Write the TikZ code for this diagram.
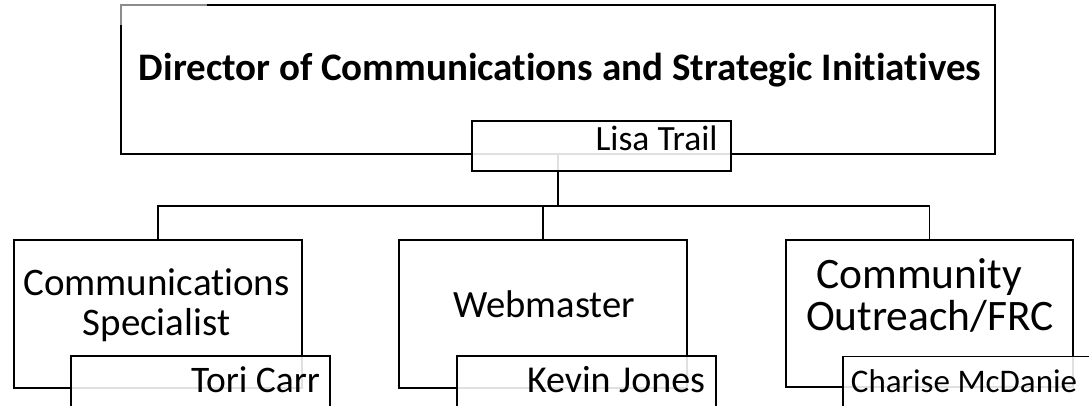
\documentclass[tikz,border=0pt]{standalone}
\usepackage{fontspec}
\setmainfont{Carlito}[Ligatures=NoCommon]
\begin{document}
\begin{tikzpicture}[x=1pt,y=-1pt,
  line width=1.8pt,
  box/.style={draw=black, rectangle, inner sep=0pt, fill=white,
    minimum width=#1},
  box/.default=288pt,
  namebox/.style={draw=black, rectangle, inner sep=0pt, fill=white,
    fill opacity=0.88, draw opacity=1, minimum width=259pt},
  label text/.style={inner sep=0pt, font=\fontsize{#1}{#1}\selectfont},
  link/.style={draw=black, line width=1.8pt}
]
\clip (0,0) rectangle (1089,405);

% title box
\node[box=874pt, minimum height=149pt] (top) at (558,79.5) {};

% second row of boxes
\node[box=288pt, minimum height=148pt] (comm) at (158,314) {};
\node[box=288pt, minimum height=148pt] (web) at (543,314) {};
\node[box=287pt, minimum height=147pt] (outr) at (929.5,313.5) {};

% connectors
\coordinate (bus) at (558,206);
\draw[link] (top.south) -- (bus);
\draw[link] (comm.north) |- (bus) -| (outr.north);
\draw[link] (web.north) -- (web.north |- bus);

% lighter top-left corner of the title box
\fill[white, fill opacity=0.55] (117,1) rectangle (207,25);

% name boxes
\node[namebox, minimum height=50pt] (lisa) at (601.5,146) {};
\node[namebox, minimum height=56pt] (tori) at (200.5,384) {};
\node[namebox, minimum height=56pt] (kevin) at (586.5,384) {};
\node[namebox, minimum height=56pt] (charise) at (972.5,384.5) {};

% texts (multi-line nodes are placed by the baseline of their last line)
\node[label text=39pt, anchor=base, font=\fontsize{39pt}{39pt}\selectfont\bfseries]
  (titleT) at (560,80) {Director of Communications and Strategic Initiatives};
\node[label text=35.5pt, anchor=base east] (lisaT) at (718.5,150) {Lisa Trail};
\node[label text=39pt, anchor=base, align=center,
  font=\fontsize{39pt}{40pt}\selectfont] (commT) at (156.5,335)
  {Communications\\Specialist};
\node[label text=38.6pt, anchor=base] (webT) at (544,317) {Webmaster};
\node[label text=43.5pt, anchor=base, align=center,
  font=\fontsize{43.5pt}{42pt}\selectfont] (outrT) at (930,330)
  {Community\hspace*{0.5em}\\Outreach/FRC};
\node[label text=37.5pt, anchor=base east] (toriT) at (321,392) {Tori Carr};
\node[label text=38pt, anchor=base east] (kevinT) at (706,392) {Kevin Jones};
\node[label text=33pt, anchor=base west] (chariseT) at (850,392) {Charise McDanie};
\end{tikzpicture}
\end{document}
